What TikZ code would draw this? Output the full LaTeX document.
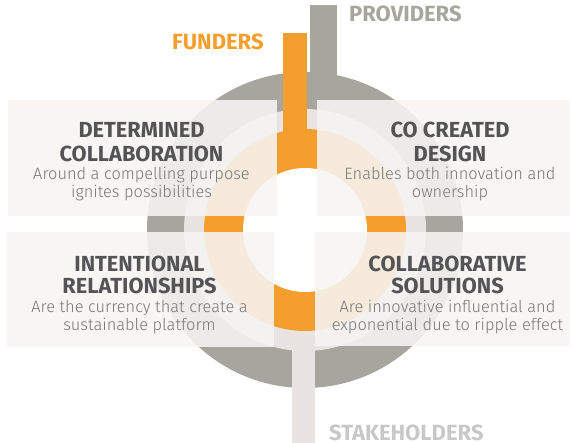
\documentclass[tikz,border=0pt]{standalone}
\usepackage{fontspec}
\setmainfont{Fira Sans}
\IfFontExistsTF{Fira Sans Light}{\newfontfamily\subfont{Fira Sans Light}}{\newfontfamily\subfont{Fira Sans}}
\definecolor{cgray}{RGB}{166,166,158}
\definecolor{clight}{RGB}{233,228,226}
\definecolor{corange}{RGB}{245,158,45}
\definecolor{cbox}{RGB}{246,245,244}
\definecolor{chead}{RGB}{84,84,86}
\definecolor{csub}{RGB}{118,118,118}
\definecolor{cstake}{RGB}{200,200,200}
\tikzset{
  panel/.style={fill=cbox, fill opacity=0.88, draw=none, inner sep=0pt, rectangle},
  headtxt/.style={font=\fontsize{21.8}{24}\selectfont\bfseries, text=chead, anchor=base, inner sep=0pt},
  subtxt/.style={font=\subfont\fontsize{16.4}{18}\selectfont, text=csub, anchor=base, inner sep=0pt},
  lbl/.style={font=\fontsize{22}{24}\selectfont\bfseries, anchor=base west, inner sep=0pt}
}
\begin{document}
\begin{tikzpicture}[x=1pt,y=-1pt]
\useasboundingbox (0,0) rectangle (572,443);
% rings
\fill[cgray] (305,230) circle[radius=158pt];
\fill[clight] (305,230) circle[radius=121pt];
% bars
\fill[cgray] (310,5) rectangle (337,100);
\fill[corange] (283,33) rectangle (307,150);
\fill[clight] (292,300) rectangle (315,443);
\fill[corange] (305,230) circle[radius=101pt];
\fill[white] (305,230) circle[radius=62pt];
% panels
\node[panel, minimum width=269pt, minimum height=116pt] (ulbox) at (142.5,158) {};
\node[panel, minimum width=252pt, minimum height=116pt] (urbox) at (443,158) {};
\node[panel, minimum width=267pt, minimum height=115pt] (llbox) at (140.5,289.5) {};
\node[panel, minimum width=254pt, minimum height=114pt] (lrbox) at (442,289) {};
% labels
\node[lbl, text=cgray] (prov) at (349,22) {PROVIDERS};
\node[lbl, text=corange] (fund) at (172,50) {FUNDERS};
\node[lbl, text=cstake] (stake) at (329,440.5) {STAKEHOLDERS};
% texts upper left
\node[headtxt] (ul1) at (141.5,138) {DETERMINED};
\node[headtxt] (ul2) at (141.5,162) {COLLABORATION};
\node[subtxt] (ul3) at (141.5,180) {Around a compelling purpose};
\node[subtxt] (ul4) at (141.5,198) {ignites possibilities};
% upper right
\node[headtxt] (ur1) at (450,138) {CO CREATED};
\node[headtxt] (ur2) at (450,162) {DESIGN};
\node[subtxt] (ur3) at (450,180) {Enables both innovation and};
\node[subtxt] (ur4) at (450,198) {ownership};
% lower left
\node[headtxt] (ll1) at (139.5,272) {INTENTIONAL};
\node[headtxt] (ll2) at (139.5,293.5) {RELATIONSHIPS};
\node[subtxt] (ll3) at (139.5,312) {Are the currency that create a};
\node[subtxt] (ll4) at (139.5,330) {sustainable platform};
% lower right
\node[headtxt] (lr1) at (447.5,272) {COLLABORATIVE};
\node[headtxt] (lr2) at (447.5,293.5) {SOLUTIONS};
\node[subtxt] (lr3) at (447.5,312) {Are innovative influential and};
\node[subtxt] (lr4) at (447.5,330) {exponential due to ripple effect};
\end{tikzpicture}
\end{document}
